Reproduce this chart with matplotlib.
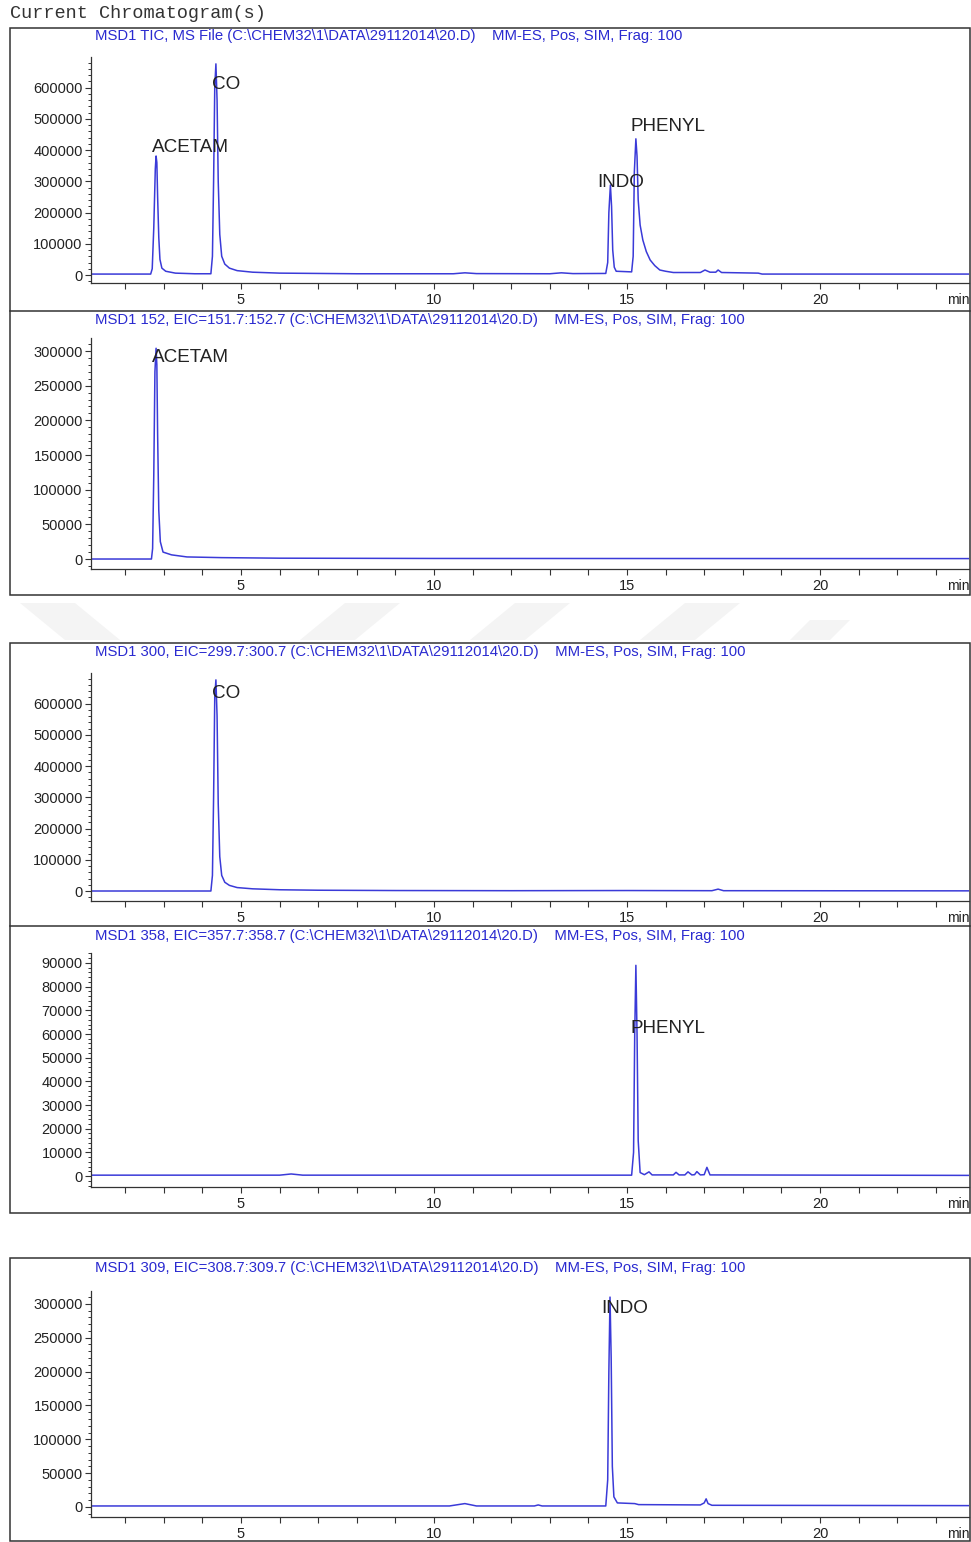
import matplotlib
matplotlib.use("Agg")
import matplotlib.pyplot as plt
from matplotlib.patches import Rectangle, Polygon
from matplotlib.ticker import MultipleLocator, AutoMinorLocator, FuncFormatter

plt.rcParams["font.family"] = ["Liberation Sans", "DejaVu Sans"]

W, H = 971, 1542

# ---- traces: (retention time [min], abundance) ----
TIC = [(1.1, 3000), (2.66, 3000), (2.70, 20000), (2.74, 150000), (2.78, 340000),
       (2.80, 381000), (2.82, 360000), (2.84, 250000), (2.87, 120000),
       (2.90, 50000), (2.95, 22000), (3.05, 12000), (3.3, 6000), (3.8, 4000),
       (4.22, 4000), (4.26, 60000), (4.29, 300000), (4.32, 600000),
       (4.35, 676000), (4.38, 560000), (4.41, 300000), (4.45, 130000),
       (4.50, 60000), (4.58, 35000), (4.70, 22000), (4.90, 14000),
       (5.3, 9000), (6.0, 6000), (7.0, 5000), (8.0, 4000), (10.5, 4000),
       (10.8, 7000), (11.1, 4500), (13.0, 4000), (13.3, 7000), (13.6, 4500),
       (14.45, 5000), (14.50, 40000), (14.53, 200000), (14.57, 288000),
       (14.60, 220000), (14.63, 80000), (14.67, 25000), (14.72, 12000),
       (15.12, 10000), (15.16, 60000), (15.19, 330000), (15.23, 436000),
       (15.26, 380000), (15.29, 240000), (15.34, 160000), (15.41, 112000),
       (15.50, 75000), (15.60, 48000), (15.72, 30000), (15.85, 16000),
       (16.0, 12000), (16.2, 8000), (16.9, 8000), (17.02, 16000),
       (17.15, 9000), (17.3, 9000), (17.36, 16000), (17.45, 8000),
       (18.4, 6000), (18.5, 3000), (23.9, 3000)]

EIC_152 = [(1.1, 0), (2.68, 0), (2.71, 15000), (2.74, 120000), (2.77, 270000),
           (2.80, 304000), (2.82, 280000), (2.84, 180000), (2.87, 70000),
           (2.91, 25000), (2.98, 10000), (3.2, 6000), (3.6, 3000),
           (4.5, 2000), (6.0, 1200), (10.0, 800), (23.9, 600)]

EIC_300 = [(1.1, 0), (4.22, 0), (4.26, 50000), (4.29, 300000), (4.32, 620000),
           (4.35, 676000), (4.38, 560000), (4.41, 280000), (4.45, 110000),
           (4.50, 50000), (4.58, 28000), (4.70, 18000), (4.90, 11000),
           (5.3, 7000), (6.0, 4000), (7.0, 2500), (9.0, 1500), (12.0, 1000),
           (15.0, 1500), (17.2, 1000), (17.36, 6000), (17.5, 1000),
           (23.9, 500)]

EIC_358 = [(1.1, 400), (6.0, 400), (6.3, 900), (6.6, 400), (15.12, 400),
           (15.17, 10000), (15.20, 60000), (15.23, 89000), (15.26, 60000),
           (15.29, 15000), (15.34, 1500), (15.45, 600), (15.57, 1800),
           (15.65, 500), (16.2, 500), (16.27, 1600), (16.35, 500),
           (16.5, 500), (16.58, 1800), (16.68, 500), (16.75, 600),
           (16.81, 1900), (16.9, 500), (17.0, 600), (17.07, 3700),
           (17.15, 500), (23.9, 300)]

EIC_309 = [(1.1, 1500), (10.4, 1500), (10.8, 5000), (11.1, 1500), (12.6, 1500),
           (12.7, 3000), (12.8, 1500), (14.45, 1500), (14.50, 40000),
           (14.53, 200000), (14.56, 310000), (14.59, 220000), (14.62, 60000),
           (14.66, 15000), (14.75, 6000), (15.2, 5000), (15.3, 3500),
           (16.9, 3000), (17.0, 6000), (17.05, 12000), (17.1, 5000),
           (17.2, 2500), (23.9, 2000)]

TITLES = [
    "MSD1 TIC, MS File (C:\\CHEM32\\1\\DATA\\29112014\\20.D)    MM-ES, Pos, SIM, Frag: 100",
    "MSD1 152, EIC=151.7:152.7 (C:\\CHEM32\\1\\DATA\\29112014\\20.D)    MM-ES, Pos, SIM, Frag: 100",
    "MSD1 300, EIC=299.7:300.7 (C:\\CHEM32\\1\\DATA\\29112014\\20.D)    MM-ES, Pos, SIM, Frag: 100",
    "MSD1 358, EIC=357.7:358.7 (C:\\CHEM32\\1\\DATA\\29112014\\20.D)    MM-ES, Pos, SIM, Frag: 100",
    "MSD1 309, EIC=308.7:309.7 (C:\\CHEM32\\1\\DATA\\29112014\\20.D)    MM-ES, Pos, SIM, Frag: 100",
]
TRACES = [TIC, EIC_152, EIC_300, EIC_358, EIC_309]
Y_STEPS = [100000, 50000, 100000, 10000, 50000]
Y_LIMS = [(-25600, 698000), (-14400, 318800), (-32000, 698000),
          (-4600, 94200), (-14800, 319000)]
# peak labels: (text, time, abundance) per panel
LABELS = [
    [("ACETAM", 2.69, 407000), ("CO", 4.25, 609000),
     ("INDO", 14.22, 295000), ("PHENYL", 15.10, 474000)],
    [("ACETAM", 2.69, 290000)],
    [("CO", 4.25, 631000)],
    [("PHENYL", 15.10, 62500)],
    [("INDO", 14.33, 292600)],
]
X_LIM = (1.114, 23.86)

# layout in pixels (top, bottom of each axes; title y)
AX_ROWS = [(57, 283, 36), (338, 569, 320), (673, 901, 652),
           (953, 1187, 936), (1291, 1517, 1268)]
AX_LEFT, AX_RIGHT = 91, 969

LINE_C = "#3a3ad8"
TITLE_C = "#2a2ad0"
AX_C = "#333333"

fig = plt.figure(figsize=(W / 100, H / 100), dpi=100)


def px_axes(l, t, r, b):
    return fig.add_axes([l / W, 1 - b / H, (r - l) / W, (b - t) / H])


def px(x, y):
    return x / W, 1 - y / H


fig.text(*px(10, 13), "Current Chromatogram(s)", family="Liberation Mono",
         fontsize=13.3, color="#333333", va="center", ha="left")

# faint watermark stripes between the first two boxes
for quad in [[(20, 603), (75, 603), (120, 640), (65, 640)],
             [(300, 640), (355, 640), (400, 603), (345, 603)],
             [(470, 640), (525, 640), (570, 603), (515, 603)],
             [(640, 640), (695, 640), (740, 603), (685, 603)],
             [(790, 640), (830, 640), (850, 620), (810, 620)]]:
    fig.add_artist(Polygon([px(x, y) for x, y in quad], closed=True,
                           transform=fig.transFigure, color="#f4f4f4", lw=0))

# outer boxes
for top, bot in [(28, 595), (643, 1213), (1258, 1541)]:
    x0, y0 = px(10, bot)
    fig.add_artist(Rectangle((x0, y0), (970 - 10) / W, (bot - top) / H,
                             transform=fig.transFigure, fill=False,
                             ec=AX_C, lw=1.1))
for sep in [311, 926]:
    fig.add_artist(plt.Line2D([10 / W, 970 / W], [1 - sep / H] * 2,
                              transform=fig.transFigure, color=AX_C, lw=1.1))

for i, (top, bot, ty) in enumerate(AX_ROWS):
    ax = px_axes(AX_LEFT, top, AX_RIGHT, bot)
    ax.patch.set_alpha(0)
    t, y = zip(*TRACES[i])
    ax.plot(t, y, color=LINE_C, lw=1.1)
    ax.set_xlim(*X_LIM)
    ax.set_ylim(*Y_LIMS[i])
    for s in ("top", "right"):
        ax.spines[s].set_visible(False)
    for s in ("left", "bottom"):
        ax.spines[s].set_color(AX_C)
        ax.spines[s].set_linewidth(0.9)
    ax.xaxis.set_major_locator(MultipleLocator(5))
    ax.xaxis.set_minor_locator(MultipleLocator(1))
    ax.xaxis.set_major_formatter(FuncFormatter(lambda v, p: f"{v:g}"))
    ax.yaxis.set_major_locator(MultipleLocator(Y_STEPS[i]))
    ax.yaxis.set_minor_locator(AutoMinorLocator(5))
    ax.yaxis.set_major_formatter(FuncFormatter(lambda v, p: f"{v:.0f}"))
    ax.tick_params(axis="x", which="both", direction="out", length=4,
                   width=0.8, color=AX_C, labelsize=10.5, labelcolor="#222222",
                   pad=3)
    ax.tick_params(axis="y", which="major", direction="out", length=4,
                   width=0.8, color=AX_C, labelsize=10.5, labelcolor="#222222",
                   pad=2)
    ax.tick_params(axis="y", which="minor", direction="out", length=2.2,
                   width=0.7, color=AX_C)
    ax.annotate("min", xy=(23.28, 0), xycoords=("data", "axes fraction"),
                xytext=(0, -17), textcoords="offset pixels",
                fontsize=10, color="#222222", ha="left", va="center")
    for name, lx, ly in LABELS[i]:
        ax.text(lx, ly, name, fontsize=13.6, color="#222222", ha="left",
                va="center")
    fig.text(*px(95, ty), TITLES[i], fontsize=10.7, color=TITLE_C,
             ha="left", va="center")

fig.savefig("out.png", dpi=100)
